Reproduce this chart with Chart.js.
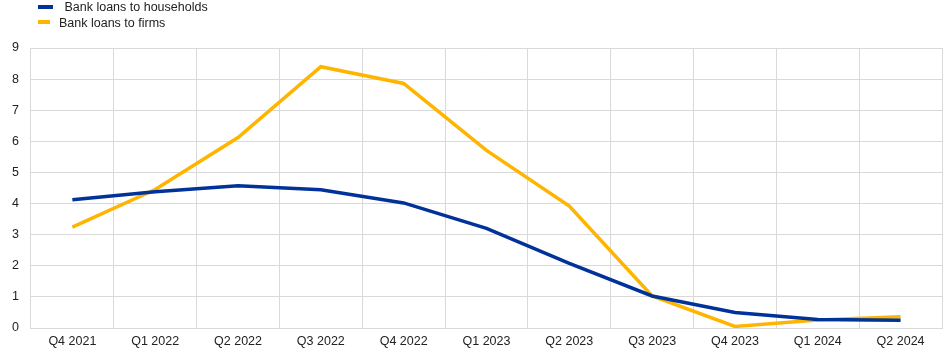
<!DOCTYPE html>
<html><head><meta charset="utf-8">
<script src="https://cdn.jsdelivr.net/npm/chart.js@4"></script>
<style>
html,body{margin:0;padding:0;background:#fff;}
#wrap{position:relative;width:945px;height:355px;}
canvas{position:absolute;left:0;top:0;}
.leg{position:absolute;font-family:"Liberation Sans",Arial,sans-serif;font-size:12.5px;color:#222;white-space:pre;}
.sw{position:absolute;height:4px;}
</style></head>
<body><div id="wrap"><canvas id="c" width="945" height="355"></canvas>
<div class="sw" style="left:38px;top:5px;width:15px;background:#003299"></div>
<div class="leg" style="left:61px;top:0px;"> Bank loans to households</div>
<div class="sw" style="left:38px;top:20px;width:12px;background:#FFB400"></div>
<div class="leg" style="left:59px;top:16px;">Bank loans to firms</div>
</div>
<script>
const categories = ["Q4 2021","Q1 2022","Q2 2022","Q3 2022","Q4 2022","Q1 2023","Q2 2023","Q3 2023","Q4 2023","Q1 2024","Q2 2024"];
const households = [4.12, 4.38, 4.57, 4.44, 4.02, 3.2, 2.08, 1.03, 0.5, 0.27, 0.25];
const firms = [3.24, 4.45, 6.12, 8.4, 7.86, 5.71, 3.92, 1.03, 0.05, 0.26, 0.36];
const yTicks = [0,1,2,3,4,5,6,7,8,9];

new Chart(document.getElementById('c'), {
  type: 'line',
  data: {
    labels: categories,
    datasets: [
      {label:' Bank loans to households', data: households, borderColor:'#003299', backgroundColor:'#003299', borderWidth:3.5, pointRadius:0, tension:0},
      {label:'Bank loans to firms', data: firms, borderColor:'#FFB400', backgroundColor:'#FFB400', borderWidth:3.5, pointRadius:0, tension:0}
    ]
  },
  options: {
    responsive:false, animation:false,
    layout:{padding:{top:48,right:3,left:0,bottom:0}},
    plugins:{legend:{display:false}, tooltip:{enabled:false}},
    scales:{
      x:{offset:true, grid:{offset:true, color:'#d9d9d9', lineWidth:1, drawTicks:false}, border:{color:'#d9d9d9'},
         ticks:{color:'#222', font:{family:'"Liberation Sans", Arial, sans-serif', size:12.5}, padding:6, maxRotation:0, autoSkip:false}},
      y:{min:0, max:9, afterBuildTicks:(s)=>{s.ticks = yTicks.map(v=>({value:v}));},
         grid:{color:'#d9d9d9', lineWidth:1, drawTicks:false}, border:{color:'#d9d9d9'},
         ticks:{color:'#222', font:{family:'"Liberation Sans", Arial, sans-serif', size:12.5}, padding:12}}
    }
  }
});
</script></body></html>
